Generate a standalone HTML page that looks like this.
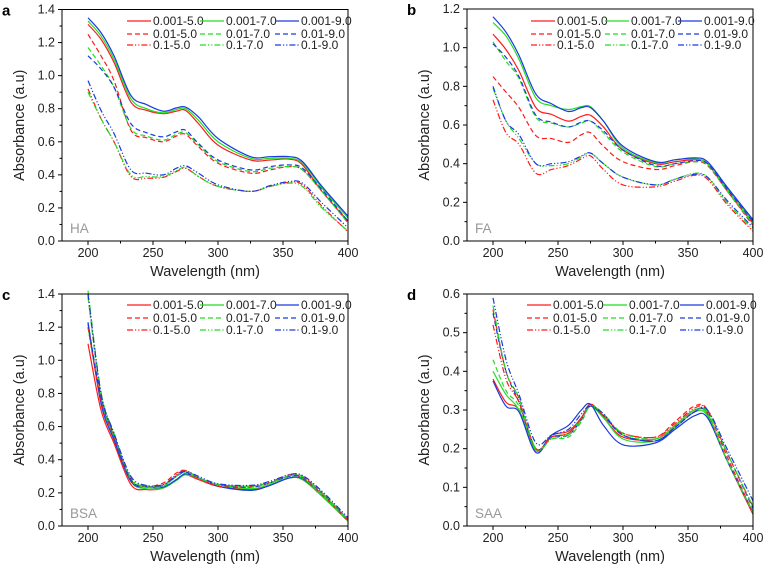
<!DOCTYPE html>
<html><head><meta charset="utf-8"><style>
html,body{margin:0;padding:0;background:#fff;}
svg{display:block;font-family:"Liberation Sans",Arial,sans-serif;}
</style></head><body>
<svg id="fig" width="765" height="569" viewBox="0 0 765 569" xmlns="http://www.w3.org/2000/svg"></svg>
<script>
const wavelengths=[200,210,220,233,245,258,268,275,285,300,325,340,355,365,380,400];
const seriesLabels=["0.001-5.0","0.001-7.0","0.001-9.0","0.01-5.0","0.01-7.0","0.01-9.0","0.1-5.0","0.1-7.0","0.1-9.0"];
const xTicks=[200,250,300,350,400];
const haValues=[
[1.31,1.22,1.08,0.84,0.79,0.77,0.785,0.79,0.71,0.58,0.49,0.49,0.495,0.46,0.30,0.12],
[1.33,1.24,1.10,0.86,0.80,0.775,0.795,0.80,0.73,0.60,0.50,0.50,0.50,0.47,0.32,0.14],
[1.35,1.26,1.12,0.88,0.825,0.785,0.805,0.81,0.75,0.62,0.51,0.51,0.51,0.48,0.33,0.15],
[1.25,1.12,0.97,0.67,0.625,0.60,0.635,0.645,0.57,0.47,0.41,0.43,0.45,0.43,0.30,0.11],
[1.17,1.06,0.93,0.68,0.635,0.61,0.645,0.655,0.58,0.48,0.42,0.44,0.45,0.43,0.30,0.11],
[1.12,1.04,0.93,0.71,0.655,0.63,0.66,0.67,0.59,0.49,0.43,0.45,0.46,0.44,0.31,0.12],
[0.92,0.74,0.60,0.39,0.38,0.385,0.42,0.44,0.39,0.33,0.30,0.33,0.355,0.34,0.21,0.055],
[0.90,0.74,0.60,0.40,0.39,0.39,0.425,0.445,0.39,0.33,0.30,0.33,0.35,0.33,0.20,0.06],
[0.97,0.79,0.65,0.43,0.41,0.40,0.44,0.455,0.41,0.34,0.30,0.335,0.36,0.35,0.23,0.08]];
const faValues=[
[1.07,0.99,0.88,0.69,0.655,0.62,0.645,0.65,0.59,0.47,0.40,0.41,0.42,0.40,0.26,0.09],
[1.13,1.06,0.94,0.74,0.70,0.68,0.695,0.695,0.62,0.48,0.405,0.42,0.425,0.40,0.27,0.10],
[1.16,1.08,0.96,0.76,0.71,0.67,0.69,0.69,0.62,0.49,0.41,0.42,0.43,0.41,0.28,0.11],
[0.85,0.77,0.69,0.545,0.53,0.51,0.55,0.56,0.49,0.41,0.37,0.39,0.41,0.39,0.26,0.08],
[1.03,0.93,0.84,0.64,0.61,0.59,0.61,0.62,0.56,0.46,0.385,0.40,0.41,0.395,0.26,0.09],
[1.02,0.95,0.85,0.65,0.615,0.59,0.615,0.62,0.57,0.47,0.39,0.40,0.415,0.40,0.27,0.10],
[0.73,0.56,0.50,0.35,0.37,0.39,0.425,0.44,0.37,0.29,0.28,0.31,0.34,0.32,0.19,0.05],
[0.79,0.62,0.53,0.40,0.39,0.40,0.435,0.455,0.40,0.33,0.29,0.32,0.35,0.33,0.20,0.06],
[0.80,0.62,0.55,0.40,0.40,0.41,0.44,0.455,0.40,0.33,0.29,0.32,0.345,0.33,0.21,0.07]];
const bsaValues=[
[1.10,0.70,0.50,0.25,0.22,0.23,0.28,0.31,0.28,0.24,0.22,0.25,0.29,0.28,0.18,0.03],
[1.20,0.76,0.53,0.27,0.225,0.23,0.275,0.31,0.29,0.25,0.225,0.25,0.29,0.28,0.18,0.03],
[1.23,0.74,0.52,0.27,0.235,0.235,0.28,0.315,0.29,0.24,0.215,0.245,0.29,0.285,0.19,0.04],
[1.20,0.76,0.54,0.28,0.24,0.26,0.32,0.335,0.29,0.24,0.235,0.26,0.305,0.29,0.19,0.03],
[1.38,0.79,0.55,0.28,0.235,0.24,0.30,0.32,0.29,0.25,0.24,0.26,0.30,0.29,0.19,0.035],
[1.22,0.78,0.55,0.28,0.24,0.245,0.30,0.325,0.29,0.25,0.235,0.26,0.30,0.295,0.20,0.04],
[1.40,0.80,0.56,0.29,0.24,0.25,0.31,0.335,0.29,0.25,0.24,0.265,0.31,0.30,0.20,0.04],
[1.42,0.81,0.56,0.29,0.24,0.245,0.30,0.33,0.29,0.25,0.24,0.26,0.305,0.30,0.20,0.04],
[1.40,0.80,0.56,0.30,0.245,0.25,0.305,0.33,0.30,0.255,0.245,0.27,0.31,0.305,0.21,0.05]];
const saaValues=[
[0.38,0.32,0.30,0.195,0.235,0.245,0.28,0.315,0.28,0.23,0.225,0.26,0.30,0.29,0.17,0.03],
[0.40,0.34,0.30,0.195,0.23,0.24,0.28,0.31,0.28,0.225,0.22,0.255,0.295,0.285,0.17,0.035],
[0.375,0.31,0.295,0.19,0.235,0.26,0.30,0.315,0.26,0.21,0.215,0.25,0.285,0.28,0.17,0.035],
[0.56,0.40,0.33,0.20,0.23,0.24,0.28,0.315,0.285,0.24,0.23,0.27,0.31,0.30,0.18,0.035],
[0.43,0.35,0.31,0.20,0.225,0.23,0.27,0.31,0.29,0.235,0.225,0.26,0.30,0.29,0.17,0.035],
[0.55,0.40,0.32,0.20,0.23,0.235,0.275,0.31,0.285,0.235,0.22,0.255,0.295,0.295,0.19,0.045],
[0.52,0.38,0.32,0.20,0.23,0.24,0.28,0.31,0.285,0.24,0.23,0.265,0.305,0.30,0.19,0.05],
[0.57,0.40,0.33,0.20,0.225,0.235,0.275,0.31,0.29,0.24,0.225,0.26,0.30,0.295,0.19,0.05],
[0.59,0.43,0.34,0.215,0.235,0.25,0.29,0.31,0.29,0.235,0.22,0.255,0.295,0.30,0.20,0.065]];
const haYTicks=[0,0.2,0.4,0.6,0.8,1.0,1.2,1.4];
const faYTicks=[0,0.2,0.4,0.6,0.8,1.0,1.2];
const saaYTicks=[0,0.1,0.2,0.3,0.4,0.5,0.6];

const NS="http://www.w3.org/2000/svg";
const svg=document.getElementById('fig');
const colors=["#ff1a1a","#22dd22","#1a3adf"];
const dashes=["none","5,3","6,2,1.2,2,1.2,2"];
function mk(tag,attrs,parent){const e=document.createElementNS(NS,tag);for(const k in attrs)e.setAttribute(k,attrs[k]);(parent||svg).appendChild(e);return e;}

const panels=[
 {letter:"a",tag:"HA",vals:haValues,yt:haYTicks,ymax:1.4,l:62,r:348,t:9.5,b:241,lx:[127,200,275],ly:[21,34,45]},
 {letter:"b",tag:"FA",vals:faValues,yt:faYTicks,ymax:1.2,l:467,r:753,t:9,b:241,lx:[531,605,678],ly:[21,34,45]},
 {letter:"c",tag:"BSA",vals:bsaValues,yt:haYTicks,ymax:1.4,l:62,r:348,t:294,b:526,lx:[127,200,275],ly:[305,318,330]},
 {letter:"d",tag:"SAA",vals:saaValues,yt:saaYTicks,ymax:0.6,l:467,r:753,t:294,b:526,lx:[527,603,680],ly:[305,318,330]}];

panels.forEach(p=>{
 const g=mk('g',{});
 
 
 const xs=v=>p.l+(v-180)/220*(p.r-p.l);
 const ys=v=>p.b-v/p.ymax*(p.b-p.t);
 const pl=mk('text',{x:p.l-60,y:p.t+6,'font-size':15,'font-weight':'bold',fill:'#000'},g);
 pl.textContent=p.letter;
 
 
 const sg=mk('g',{},g);
 p.vals.forEach((vals,i)=>{
  const pts=wavelengths.map((w,j)=>[xs(w),ys(vals[j])]);
  let d="M"+pts[0][0].toFixed(2)+","+pts[0][1].toFixed(2);
  for(let k=0;k<pts.length-1;k++){
   const p0=pts[Math.max(0,k-1)],p1=pts[k],p2=pts[k+1],p3=pts[Math.min(pts.length-1,k+2)];
   const c1=[p1[0]+(p2[0]-p0[0])/6,p1[1]+(p2[1]-p0[1])/6];
   const c2=[p2[0]-(p3[0]-p1[0])/6,p2[1]-(p3[1]-p1[1])/6];
   d+=` C${c1[0].toFixed(2)},${c1[1].toFixed(2)} ${c2[0].toFixed(2)},${c2[1].toFixed(2)} ${p2[0].toFixed(2)},${p2[1].toFixed(2)}`;
  }
  const path=mk('path',{d:d,fill:'none',stroke:colors[i%3],'stroke-width':1.2,'stroke-dasharray':dashes[Math.floor(i/3)]},sg);
  
  
 });
 const fr=mk('rect',{x:p.l,y:p.t,width:p.r-p.l,height:p.b-p.t,fill:'none',stroke:'#000','stroke-width':1},g);
 
 
 for(let w=200;w<=400;w+=25){
  const major=(w%50===0);
  mk('line',{x1:xs(w),x2:xs(w),y1:p.b,y2:p.b+(major?4:2.5),stroke:'#000','stroke-width':1},g);
 }
 xTicks.forEach(w=>{
  const t=mk('text',{x:xs(w),y:p.b+16,'font-size':12.5,'text-anchor':'middle',fill:'#222'},g);
  t.textContent=w;
  
  
 });
 const step=p.yt[1]-p.yt[0];
 p.yt.forEach((v,i)=>{
  mk('line',{x1:p.l-4,x2:p.l,y1:ys(v),y2:ys(v),stroke:'#000','stroke-width':1},g);
  if(i<p.yt.length-1){const m=v+step/2;mk('line',{x1:p.l-2.5,x2:p.l,y1:ys(m),y2:ys(m),stroke:'#000','stroke-width':1},g);}
  const t=mk('text',{x:p.l-7,y:ys(v)+4,'font-size':12.5,'text-anchor':'end',fill:'#222'},g);
  t.textContent=v.toFixed(1);
  
  
 });
 const xt=mk('text',{x:(p.l+p.r)/2,y:p.b+35,'font-size':14.5,'text-anchor':'middle',fill:'#222'},g);
 xt.textContent="Wavelength (nm)";
 
 
 const cy=(p.t+p.b)/2;
 const yt=mk('text',{x:p.l-38,y:cy,'font-size':14.5,'text-anchor':'middle',fill:'#222',transform:`rotate(-90 ${p.l-38} ${cy})`},g);
 yt.textContent="Absorbance (a.u)";
 
 
 const tg=mk('text',{x:p.l+8,y:p.b-8,'font-size':13.5,fill:'#999'},g);
 tg.textContent=p.tag;
 
 
 seriesLabels.forEach((lab,i)=>{
  const col=i%3,row=Math.floor(i/3);
  const lx=p.lx[col],ly=p.ly[row];
  const lg=mk('g',{},g);
  
  
  mk('line',{x1:lx,x2:lx+24,y1:ly,y2:ly,stroke:colors[col],'stroke-width':1.2,'stroke-dasharray':dashes[row]},lg);
  const t=mk('text',{x:lx+26,y:ly+4,'font-size':12,fill:'#222'},lg);
  t.textContent=lab;
 });
});
</script>
</body></html>
